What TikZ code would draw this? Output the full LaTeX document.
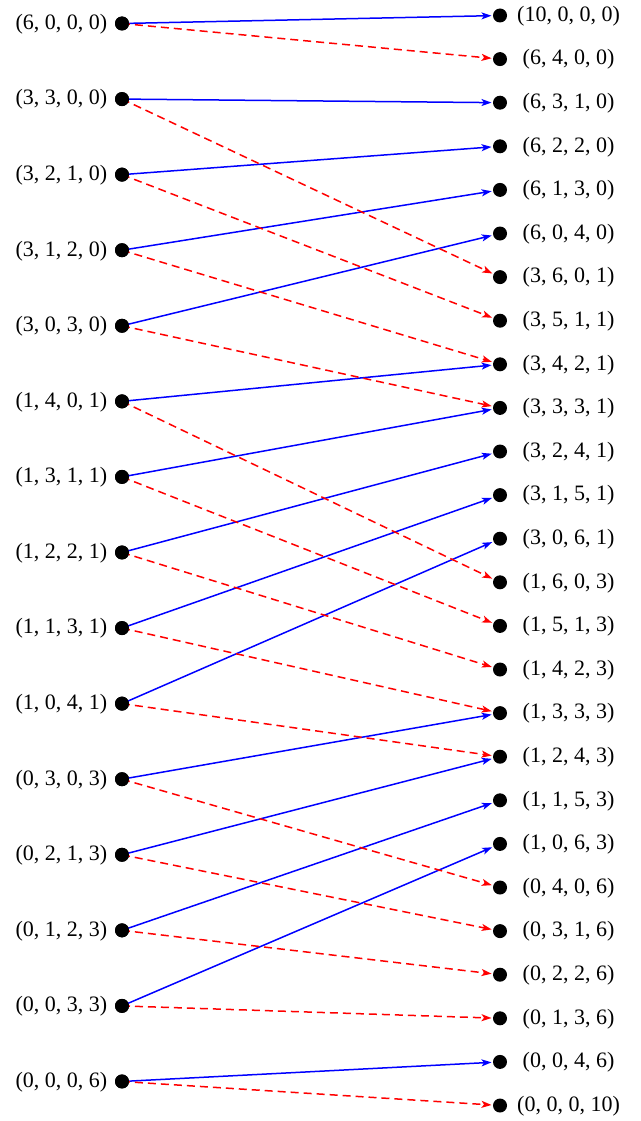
\documentclass[tikz,border=0pt]{standalone}
\usepackage{fontspec}
\setmainfont{Liberation Serif}
\usetikzlibrary{arrows.meta}
\begin{document}
\begin{tikzpicture}[x=1pt,y=-1pt,
  dot/.style={circle,fill=black,inner sep=0pt,minimum size=14pt,outer sep=1.5pt},
  lbl/.style={font=\fontsize{22}{26}\selectfont,inner sep=0pt},
  bl/.style={blue,line width=1.5pt,-{Stealth[length=10pt,width=7pt,inset=2.5pt]}},
  rd/.style={red,line width=1.5pt,dashed,dash pattern=on 8pt off 5pt,-{Stealth[length=10pt,width=7pt,inset=2.5pt]}}]
\useasboundingbox (0,0) rectangle (640,1121);
% left column
\foreach \i/\t in {0/{(6, 0, 0, 0)},1/{(3, 3, 0, 0)},2/{(3, 2, 1, 0)},3/{(3, 1, 2, 0)},4/{(3, 0, 3, 0)},
  5/{(1, 4, 0, 1)},6/{(1, 3, 1, 1)},7/{(1, 2, 2, 1)},8/{(1, 1, 3, 1)},9/{(1, 0, 4, 1)},
  10/{(0, 3, 0, 3)},11/{(0, 2, 1, 3)},12/{(0, 1, 2, 3)},13/{(0, 0, 3, 3)},14/{(0, 0, 0, 6)}}{
  \node[dot] (L\i) at (122,{23.5+75.57*\i}) {};
  \node[lbl] (LT\i) at (61.5,{24+75.57*\i}) {\t};
}
% right column
\foreach \i/\t in {0/{(10, 0, 0, 0)},1/{(6, 4, 0, 0)},2/{(6, 3, 1, 0)},3/{(6, 2, 2, 0)},4/{(6, 1, 3, 0)},
  5/{(6, 0, 4, 0)},6/{(3, 6, 0, 1)},7/{(3, 5, 1, 1)},8/{(3, 4, 2, 1)},9/{(3, 3, 3, 1)},
  10/{(3, 2, 4, 1)},11/{(3, 1, 5, 1)},12/{(3, 0, 6, 1)},13/{(1, 6, 0, 3)},14/{(1, 5, 1, 3)},
  15/{(1, 4, 2, 3)},16/{(1, 3, 3, 3)},17/{(1, 2, 4, 3)},18/{(1, 1, 5, 3)},19/{(1, 0, 6, 3)},
  20/{(0, 4, 0, 6)},21/{(0, 3, 1, 6)},22/{(0, 2, 2, 6)},23/{(0, 1, 3, 6)},24/{(0, 0, 4, 6)},25/{(0, 0, 0, 10)}}{
  \node[dot] (R\i) at (500,{15.5+43.6*\i}) {};
  \node[lbl] (RT\i) at (568.5,{16+43.6*\i}) {\t};
}
% blue edges
\foreach \a/\b in {0/0,1/2,2/3,3/4,4/5,5/8,6/9,7/10,8/11,9/12,10/16,11/17,12/18,13/19,14/24}{
  \draw[bl] (L\a.center) -- (R\b);
}
% red edges
\foreach \a/\b in {0/1,1/6,2/7,3/8,4/9,5/13,6/14,7/15,8/16,9/17,10/20,11/21,12/22,13/23,14/25}{
  \draw[rd] (L\a.center) -- (R\b);
}
% redraw left dots on top
\foreach \i in {0,...,14}{ \fill (L\i) circle (7pt); }
\end{tikzpicture}
\end{document}
